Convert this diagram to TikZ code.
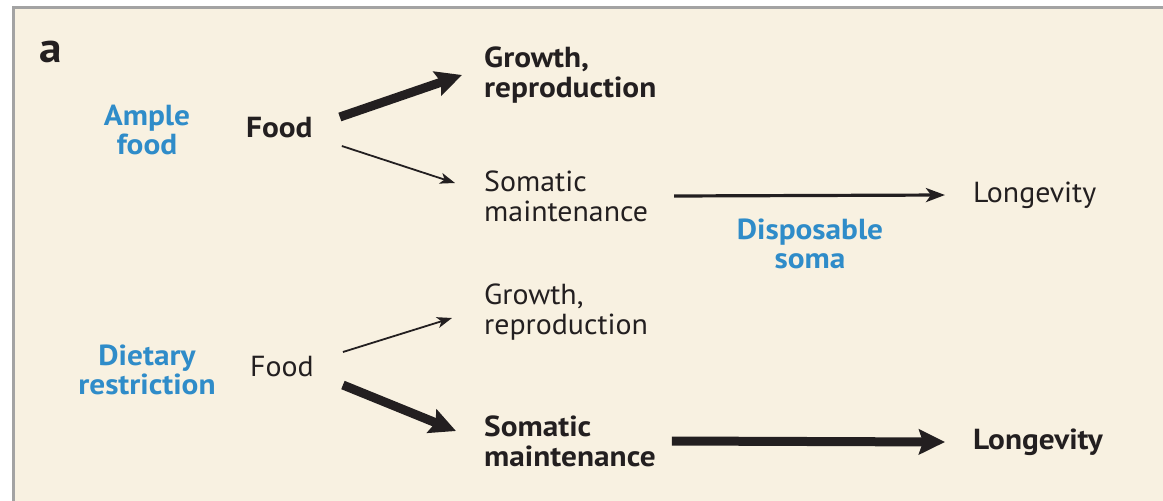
\documentclass[tikz,border=0pt]{standalone}
\usepackage{fontspec}
\setmainfont{PT Sans}
\newfontfamily\regfont[FakeStretch=1.03]{PT Sans}
\newfontfamily\boldfont[FakeStretch=1.08]{PT Sans Bold}
\usetikzlibrary{arrows.meta}
\definecolor{panel}{HTML}{F8F1E1}
\definecolor{frame}{HTML}{A3A3A3}
\definecolor{ink}{HTML}{231F20}
\definecolor{accent}{HTML}{2F8CC9}

\begin{document}
\begin{tikzpicture}[x=1pt,y=-1pt,
  txt/.style={font=\fontsize{29}{30}\selectfont\regfont, text=ink, align=left, inner sep=0pt, anchor=west},
  bold/.style={txt, font=\fontsize{29}{30}\selectfont\boldfont},
  label/.style={font=\fontsize{29}{29.5}\selectfont\boldfont, text=accent, align=center, inner sep=0pt},
  heavy/.style={line width=9pt, draw=ink, -{Stealth[length=26pt,width=25pt,inset=4pt]}},
  light/.style={line width=1.8pt, draw=ink, -{Stealth[length=15pt,width=11pt,inset=4pt]}},
  medium/.style={line width=3.2pt, draw=ink, -{Stealth[length=19pt,width=14pt,inset=5pt]}}]

  % page and panel
  \useasboundingbox (0,0) rectangle (1163,501);
  \clip (0,0) rectangle (1163,501);
  \fill[white] (0,0) rectangle (1163,501);
  \draw[frame, line width=3pt, fill=panel] (13.5,7.5) rectangle (1180,520);

  % panel letter
  \node[bold, font=\fontsize{42}{44}\selectfont\boldfont] (tag) at (39,52) {a};

  % ample food
  \node[label] (ample) at (147,130) {Ample\\food};
  \node[bold] (food1) at (246,128) {Food};
  \node[bold] (grow1) at (484,75) {Growth,\\reproduction};
  \node[txt] (soma1) at (484,196) {Somatic\\maintenance};
  \node[txt] (long1) at (973,195) {Longevity};
  \node[label] (disp) at (810,244) {Disposable\\soma};

  % dietary restriction
  \node[label] (diet) at (147,370) {Dietary\\restriction};
  \node[txt] (food2) at (250,367) {Food};
  \node[txt] (grow2) at (484,312) {Growth,\\reproduction};
  \node[bold] (soma2) at (484,441) {Somatic\\maintenance};
  \node[bold] (long2) at (973,442) {Longevity};

  % allocation arrows
  \draw[heavy] ([shift={(27,-11)}]food1.east) -- ([shift={(-22,0)}]grow1.west);
  \draw[light] ([shift={(29,18)}]food1.east) -- ([shift={(-29,-13)}]soma1.west);
  \draw[medium] ([xshift=26pt]soma1.east) -- ([xshift=-28pt]long1.west);

  \draw[light] ([shift={(29,-15)}]food2.east) -- ([shift={(-32,6)}]grow2.west);
  \draw[heavy] ([shift={(29,18)}]food2.east) -- ([shift={(-28,-10)}]soma2.west);
  \draw[heavy] ([xshift=16pt]soma2.east) -- ([xshift=-28pt]long2.west);
\end{tikzpicture}
\end{document}
